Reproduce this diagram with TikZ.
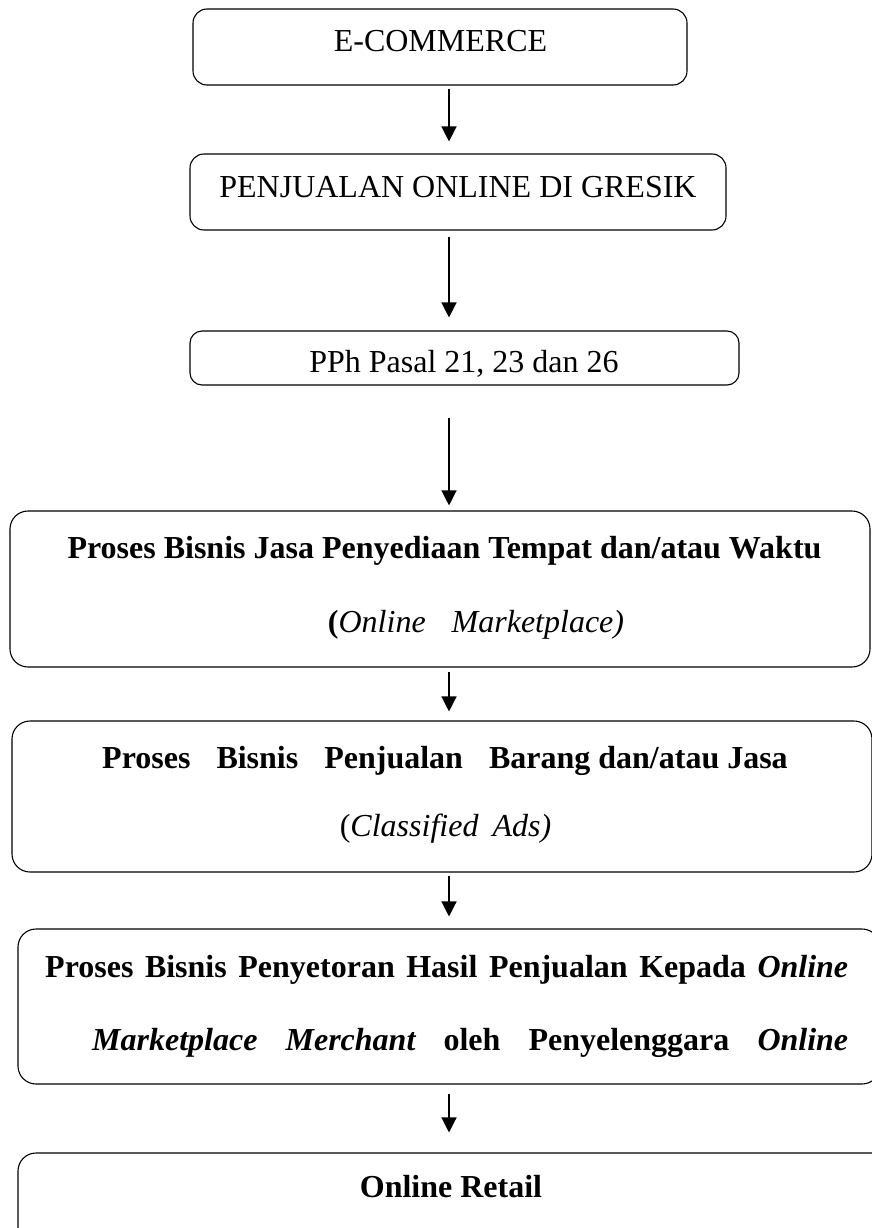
\documentclass[tikz,border=0pt]{standalone}
\usepackage{fontspec}
\setmainfont{Liberation Serif}
\usetikzlibrary{arrows.meta}
\begin{document}
\begin{tikzpicture}[x=1pt,y=-1pt,
  box/.style={draw, line width=1.1pt, rounded corners=14pt, inner sep=0pt},
  bigbox/.style={box, rounded corners=18pt},
  lbl/.style={inner sep=0pt, anchor=base, font=\fontsize{32}{38}\selectfont},
  arr/.style={-{Triangle[width=15pt,length=15pt]}, line width=1.3pt}]
\useasboundingbox (0,0) rectangle (871,1228);
% boxes
\node[box, minimum width=494pt, minimum height=76pt] (b1) at (440,47) {};
\node[box, minimum width=536pt, minimum height=76pt] (b2) at (458,192) {};
\node[box, rounded corners=12pt, minimum width=549pt, minimum height=54pt] (b3) at (464.5,358) {};
\node[bigbox, minimum width=860pt, minimum height=156pt] (b4) at (440,589) {};
\node[bigbox, minimum width=860pt, minimum height=151pt] (b5) at (442,796.5) {};
\node[bigbox, minimum width=862pt, minimum height=155pt] (b6) at (449,1006.5) {};
\node[bigbox, minimum width=877pt, minimum height=147pt] (b7) at (456.5,1226.5) {};
% texts
\node[lbl] (t1) at (440.5,52) {E-COMMERCE};
\node[lbl] (t2) at (458,197) {PENJUALAN ONLINE DI GRESIK};
\node[lbl] (t3) at (464,372) {PPh Pasal 21, 23 dan 26};
\node[lbl] (t4a) at (444.5,558) {\bfseries Proses Bisnis Jasa Penyediaan Tempat dan/atau Waktu};
\node[lbl] (t4b) at (476,632) {\textbf{(}\textit{Online\hspace{26pt}Marketplace)}};
\node[lbl] (t5a) at (445,768) {\bfseries Proses\hspace{26pt}Bisnis\hspace{26pt}Penjualan\hspace{26pt}Barang dan/atau Jasa};
\node[lbl] (t5b) at (445.5,836) {(\textit{Classified\hspace{14pt}Ads)}};
\node[lbl, anchor=base west] (t6a) at (45,977) {\makebox[803pt][s]{\bfseries Proses Bisnis Penyetoran Hasil Penjualan Kepada \textit{Online}}};
\node[lbl, anchor=base west] (t6b) at (92,1050) {\makebox[756pt][s]{\bfseries\itshape Marketplace Merchant \upshape oleh Penyelenggara \itshape Online}};
\node[lbl] (t7) at (451,1197) {\bfseries Online Retail};
% arrows
\coordinate (ax) at (449,0);
\draw[arr, shorten <=3pt, shorten >=12pt] (b1.south -| ax) -- (b2.north -| ax);
\draw[arr, shorten <=6pt, shorten >=13pt] (b2.south -| ax) -- (b3.north -| ax);
\draw[arr, shorten <=32pt, shorten >=5pt] (b3.south -| ax) -- (b4.north -| ax);
\draw[arr, shorten <=4pt, shorten >=9pt] (b4.south -| ax) -- (b5.north -| ax);
\draw[arr, shorten <=3pt, shorten >=12pt] (b5.south -| ax) -- (b6.north -| ax);
\draw[arr, shorten <=9pt, shorten >=20pt] (b6.south -| ax) -- (b7.north -| ax);
\end{tikzpicture}
\end{document}
